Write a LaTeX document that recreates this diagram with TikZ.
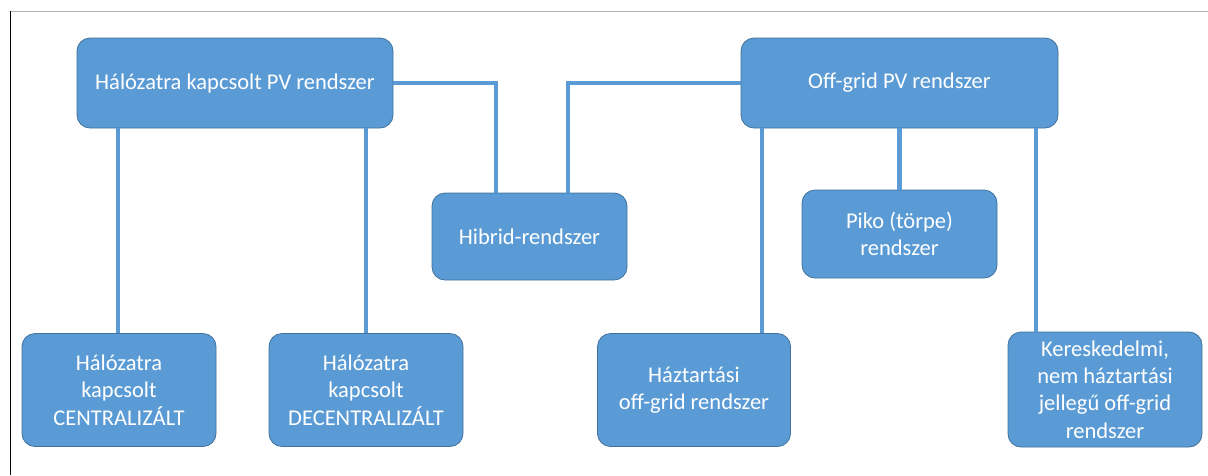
\documentclass[tikz,border=0pt]{standalone}
\usepackage{fontspec}
\setmainfont{Carlito}
\definecolor{boxblue}{HTML}{5B9BD5}
\definecolor{boxedge}{HTML}{41719C}
\begin{document}
\begin{tikzpicture}[x=1pt,y=-1pt,
  box/.style={rectangle,rounded corners=13pt,fill=boxblue,draw=boxedge,line width=0.8pt,
    text=white,align=center,font=\fontsize{22.5}{27.3}\selectfont,inner sep=2pt},
  link/.style={draw=boxblue,line width=4.5pt}]
\useasboundingbox (0,0) rectangle (1208,475);
\draw[gray!60,line width=1pt] (10,11) -- (1208,11);
\draw[black,line width=1pt] (10,11) -- (10,475);
\node[box,minimum width=316pt,minimum height=90pt] (A) at (235,83) {Hálózatra kapcsolt PV rendszer};
\node[box,minimum width=317pt,minimum height=90pt] (B) at (899.5,83) {Off-grid PV rendszer};
\node[box,minimum width=195pt,minimum height=87pt] (Hib) at (529.5,236.5) {Hibrid-rendszer};
\node[box,minimum width=195pt,minimum height=88pt] (Piko) at (899.5,234) {Piko (törpe)\\rendszer};
\node[box,minimum width=194pt,minimum height=113pt] (C1) at (119,390) {Hálózatra\\kapcsolt\\CENTRALIZÁLT};
\node[box,minimum width=194pt,minimum height=113pt] (C2) at (366,390) {Hálózatra\\kapcsolt\\DECENTRALIZÁLT};
\node[box,minimum width=193pt,minimum height=113pt] (H) at (694,390) {Háztartási\\off-grid rendszer};
\node[box,minimum width=194pt,minimum height=115pt] (K) at (1105,389.5) {Kereskedelmi,\\nem háztartási\\jellegű off-grid\\rendszer};
\begin{scope}[link]
\draw ([xshift=-1pt]C1.north |- A.south) -- ([xshift=-1pt]C1.north);
\draw (C2.north |- A.south) -- (C2.north);
\draw (A.east) -| ([xshift=-33.5pt]Hib.north);
\draw ([xshift=38.5pt]Hib.north) |- (B.west);
\draw ([xshift=68pt]H.north |- B.south) -- ([xshift=68pt]H.north);
\draw (Piko.north |- B.south) -- (Piko.north);
\draw ([xshift=-69pt]K.north |- B.south) -- ([xshift=-69pt]K.north);
\end{scope}
\end{tikzpicture}
\end{document}
